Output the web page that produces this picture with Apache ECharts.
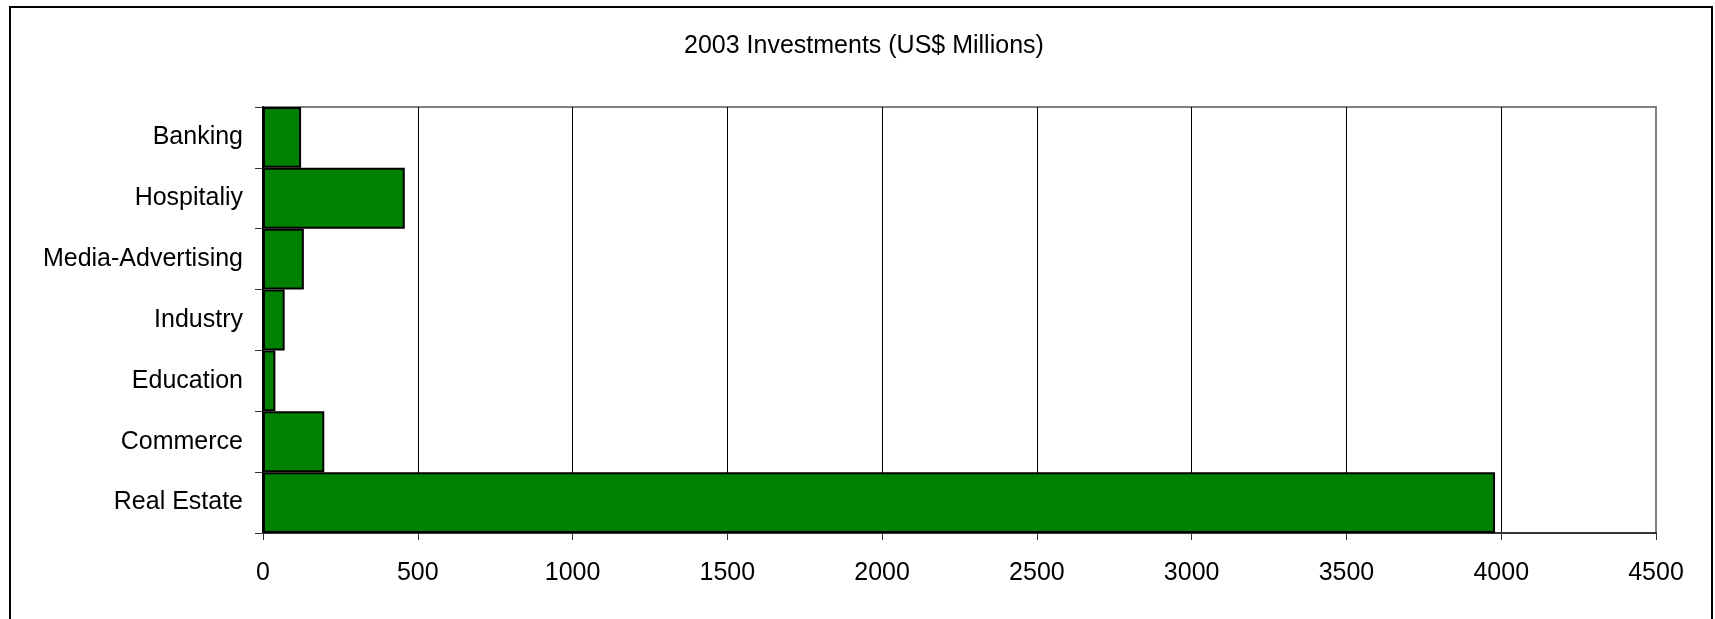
<!DOCTYPE html>
<html>
<head>
<meta charset="utf-8">
<script src="https://cdn.jsdelivr.net/npm/echarts@6/dist/echarts.min.js"></script>
<style>
html,body{margin:0;padding:0;background:#fff;}
#chart{width:1715px;height:619px;}
</style>
</head>
<body>
<div id="chart"></div>
<script>
var titleText = '2003 Investments (US$ Millions)';
var categories = ['Banking', 'Hospitaliy', 'Media-Advertising', 'Industry', 'Education', 'Commerce', 'Real Estate'];
var values = [123, 458, 132, 70, 40, 198, 3980];
var xTicks = [0, 500, 1000, 1500, 2000, 2500, 3000, 3500, 4000, 4500];

var FONT = '"Liberation Sans", Arial, sans-serif';
var chart = echarts.init(document.getElementById('chart'), null, {renderer: 'canvas'});
var splitColors = xTicks.map(function (v, i) { return i === xTicks.length - 1 ? '#808080' : '#000000'; });

chart.setOption({
  animation: false,
  backgroundColor: '#ffffff',
  title: {
    text: titleText,
    left: 684,
    top: 34,
    padding: 0,
    textStyle: {fontFamily: FONT, fontSize: 25, fontWeight: 'normal', color: '#000'}
  },
  graphic: [{
    type: 'rect',
    shape: {x: 10, y: 7, width: 1702, height: 700},
    style: {fill: 'none', stroke: '#000', lineWidth: 2},
    silent: true,
    z: 100
  }],
  grid: {
    left: 263, right: 59, top: 107, bottom: 86,
    show: true,
    borderColor: '#808080',
    borderWidth: 2,
    backgroundColor: 'transparent'
  },
  xAxis: {
    type: 'value',
    min: 0,
    max: 4500,
    interval: 500,
    axisLine: {show: true, lineStyle: {color: '#333', width: 2}},
    axisTick: {show: true, length: 7, lineStyle: {color: '#333', width: 1}},
    axisLabel: {
      margin: 28,
      fontFamily: FONT, fontSize: 25, color: '#000',
      formatter: function (v) { return xTicks.indexOf(v) >= 0 ? String(v) : ''; }
    },
    splitLine: {show: true, lineStyle: {color: splitColors, width: 1}}
  },
  yAxis: {
    type: 'category',
    data: categories,
    inverse: true,
    axisLine: {show: true, lineStyle: {color: '#000', width: 2}},
    axisTick: {show: true, length: 8, lineStyle: {color: '#333', width: 1}},
    axisLabel: {margin: 20, fontFamily: FONT, fontSize: 25, color: '#000'},
    splitLine: {show: false}
  },
  series: [{
    type: 'bar',
    data: values,
    barCategoryGap: '0%',
    itemStyle: {color: '#008000', borderColor: '#000', borderWidth: 2},
    z: 3
  }]
});
</script>
</body>
</html>
